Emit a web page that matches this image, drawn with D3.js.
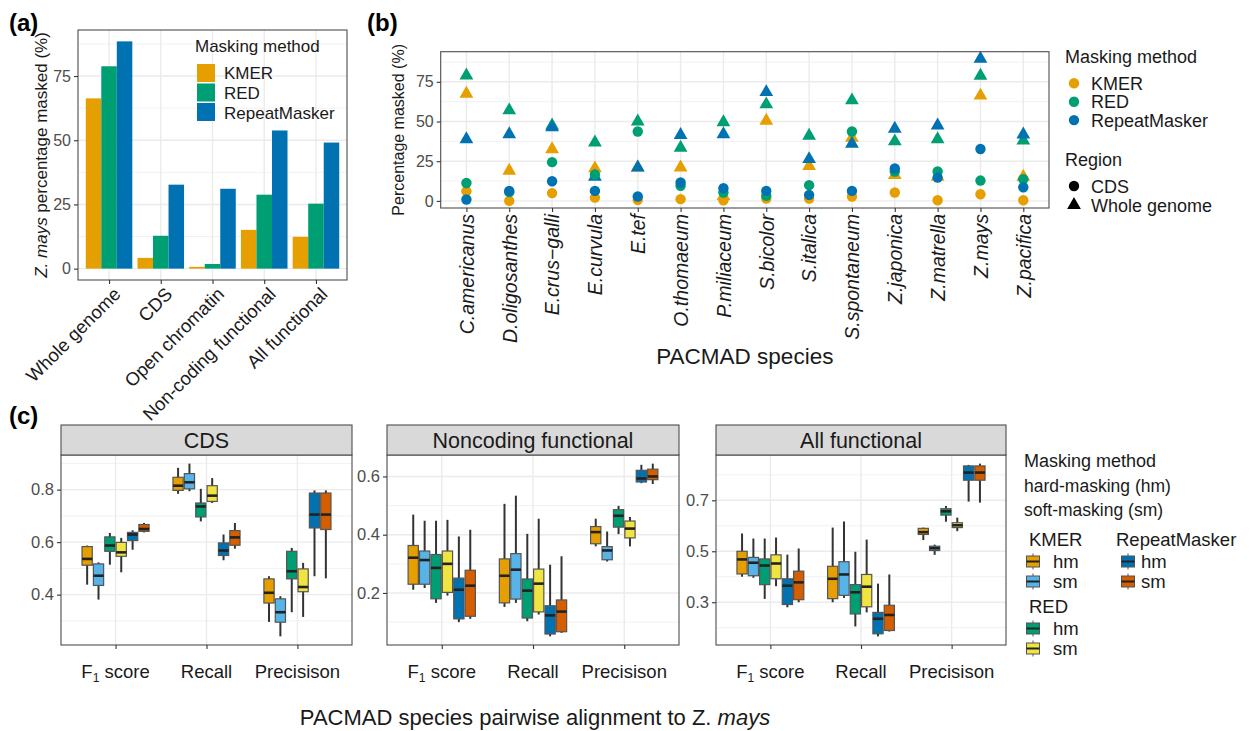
<!DOCTYPE html>
<html>
<head>
<meta charset="utf-8">
<script src="https://cdn.jsdelivr.net/npm/d3@7"></script>
<style>
  body { margin: 0; background: #fff; }
  svg text { font-family: "Liberation Sans", Arial, sans-serif; }
</style>
</head>
<body>
<svg id="fig" width="1250" height="731"></svg>
<script>
// ---- data: panel (a) ----
var regionsA = ["Whole genome", "CDS", "Open chromatin", "Non-coding functional", "All functional"];
var methods = ["KMER", "RED", "RepeatMasker"];
var kmerA = [66.3, 4.2, 0.7, 15.1, 12.4];
var redA = [78.8, 12.8, 1.8, 28.8, 25.3];
var rmA = [88.5, 32.7, 31.1, 53.8, 49.1];
var ticksA = [0, 25, 50, 75];

// ---- data: panel (b) ----
var species = ["C.americanus", "D.oligosanthes", "E.crus\u2212galli", "E.curvula", "E.tef", "O.thomaeum",
  "P.miliaceum", "S.bicolor", "S.italica", "S.spontaneum", "Z.japonica", "Z.matrella", "Z.mays", "Z.pacifica"];
var kmerCds = [6.1, 0.0, 4.9, 2.1, 0.6, 1.1, 0.4, 1.5, 1.5, 2.8, 5.3, 0.4, 4.2, 0.4];
var redCds = [11.3, 5.5, 24.4, 16.6, 43.7, 9.5, 5.3, 3.2, 9.9, 43.7, 18.5, 18.5, 12.8, 13.7];
var rmCds = [0.9, 6.3, 12.4, 6.3, 2.8, 11.6, 8.0, 6.3, 3.8, 6.3, 20.4, 14.7, 32.7, 8.6];
var kmerWg = [67.5, 19.0, 32.5, 20.5, 21.0, 21.0, 3.0, 50.5, 22.0, 39.7, 16.3, 15.2, 66.3, 15.2];
var redWg = [79.0, 57.0, 47.5, 36.8, 50.0, 33.5, 49.5, 60.8, 41.0, 63.3, 37.5, 38.8, 78.8, 38.0];
var rmWg = [38.8, 42.0, 46.3, 15.2, 21.0, 41.5, 42.0, 68.5, 26.3, 36.0, 45.5, 47.5, 89.5, 41.8];
var ticksB = [0, 25, 50, 75];

// ---- data: panel (c) ----
var metrics = ["F1 score", "Recall", "Precisison"];
var boxKeys = ["KMER hm", "KMER sm", "RED hm", "RED sm", "RepeatMasker hm", "RepeatMasker sm"];
// each row: [lower whisker, q1, median, q3, upper whisker]
var cdsF1 = [[0.438, 0.512, 0.536, 0.583, 0.587], [0.381, 0.435, 0.472, 0.517, 0.523], [0.514, 0.565, 0.587, 0.620, 0.635],
  [0.485, 0.546, 0.561, 0.599, 0.616], [0.571, 0.606, 0.629, 0.637, 0.645], [0.637, 0.641, 0.650, 0.667, 0.673]];
var cdsRecall = [[0.784, 0.797, 0.815, 0.847, 0.883], [0.794, 0.803, 0.828, 0.861, 0.899], [0.679, 0.696, 0.736, 0.749, 0.803],
  [0.749, 0.755, 0.777, 0.815, 0.844], [0.531, 0.549, 0.568, 0.597, 0.629], [0.575, 0.588, 0.618, 0.644, 0.673]];
var cdsPrecision = [[0.296, 0.368, 0.407, 0.460, 0.470], [0.241, 0.295, 0.333, 0.384, 0.394], [0.333, 0.460, 0.489, 0.565, 0.578],
  [0.315, 0.411, 0.429, 0.498, 0.521], [0.470, 0.654, 0.705, 0.787, 0.797], [0.462, 0.648, 0.705, 0.787, 0.797]];
var ncF1 = [[0.211, 0.230, 0.321, 0.363, 0.469], [0.217, 0.230, 0.313, 0.344, 0.448], [0.166, 0.180, 0.286, 0.332, 0.448],
  [0.191, 0.202, 0.300, 0.344, 0.451], [0.100, 0.111, 0.211, 0.251, 0.394], [0.111, 0.120, 0.225, 0.278, 0.417]];
var ncRecall = [[0.152, 0.166, 0.259, 0.317, 0.506], [0.166, 0.179, 0.280, 0.335, 0.534], [0.103, 0.114, 0.208, 0.248, 0.403],
  [0.126, 0.135, 0.232, 0.282, 0.455], [0.051, 0.059, 0.123, 0.156, 0.297], [0.063, 0.067, 0.136, 0.176, 0.326]];
var ncPrecision = [[0.360, 0.369, 0.409, 0.428, 0.455], [0.308, 0.314, 0.346, 0.359, 0.411], [0.402, 0.426, 0.465, 0.486, 0.499],
  [0.360, 0.389, 0.421, 0.447, 0.461], [0.577, 0.581, 0.593, 0.621, 0.640], [0.574, 0.589, 0.600, 0.625, 0.644]];
var allF1 = [[0.400, 0.411, 0.468, 0.500, 0.570], [0.396, 0.404, 0.455, 0.476, 0.550], [0.313, 0.369, 0.444, 0.470, 0.550],
  [0.363, 0.392, 0.452, 0.486, 0.554], [0.280, 0.291, 0.365, 0.392, 0.487], [0.300, 0.310, 0.378, 0.422, 0.511]];
var allRecall = [[0.300, 0.314, 0.392, 0.441, 0.593], [0.317, 0.327, 0.409, 0.459, 0.617], [0.205, 0.254, 0.339, 0.369, 0.498],
  [0.260, 0.282, 0.361, 0.409, 0.546], [0.166, 0.176, 0.235, 0.260, 0.373], [0.185, 0.189, 0.250, 0.288, 0.409]];
var allPrecision = [[0.544, 0.566, 0.575, 0.590, 0.593], [0.486, 0.503, 0.512, 0.520, 0.526], [0.616, 0.642, 0.657, 0.667, 0.678],
  [0.579, 0.593, 0.602, 0.612, 0.632], [0.695, 0.779, 0.809, 0.835, 0.839], [0.691, 0.779, 0.809, 0.835, 0.844]];
var facets = ["CDS", "Noncoding functional", "All functional"];
var ticksCds = [0.4, 0.6, 0.8], ticksNc = [0.2, 0.4, 0.6], ticksAll = [0.3, 0.5, 0.7];

// ---- styles ----
var GRID = "#EBEBEB", BORDER = "#4D4D4D", TICKTXT = "#4D4D4D", INK = "#1A1A1A";
var methodColor = d3.scaleOrdinal().domain(methods).range(["#E69F00", "#009E73", "#0072B2"]);
var boxColor = d3.scaleOrdinal().domain(boxKeys)
  .range(["#E69F00", "#56B4E9", "#009E73", "#F0E442", "#0072B2", "#D55E00"]);

var svg = d3.select("#fig");

function expanded(lo, hi) {
  var pad = (hi - lo) * 0.05;
  return [lo - pad, hi + pad];
}

function styleAxis(g, size) {
  g.attr("font-family", null).attr("font-size", null);
  g.select(".domain").remove();
  g.selectAll(".tick line").attr("stroke", "#333").attr("stroke-width", 1.1);
  g.selectAll(".tick text").attr("fill", TICKTXT).style("font-size", size + "px");
}

function grid(g, x0, x1, y0, y1, y, majors, minors, xs) {
  g.selectAll(null).data(minors).enter().append("line")
    .attr("x1", x0).attr("x2", x1).attr("y1", function (d) { return y(d); }).attr("y2", function (d) { return y(d); })
    .attr("stroke", GRID).attr("stroke-width", 0.7);
  g.selectAll(null).data(majors).enter().append("line")
    .attr("x1", x0).attr("x2", x1).attr("y1", function (d) { return y(d); }).attr("y2", function (d) { return y(d); })
    .attr("stroke", GRID).attr("stroke-width", 1.4);
  g.selectAll(null).data(xs).enter().append("line")
    .attr("y1", y0).attr("y2", y1).attr("x1", function (d) { return d; }).attr("x2", function (d) { return d; })
    .attr("stroke", GRID).attr("stroke-width", 1.4);
}

function border(g, x0, x1, y0, y1) {
  g.append("rect").attr("x", x0).attr("y", y0).attr("width", x1 - x0).attr("height", y1 - y0)
    .attr("fill", "none").attr("stroke", BORDER).attr("stroke-width", 1.1);
}

function midpoints(t) {
  var m = [];
  for (var i = 0; i <= t.length; i++) {
    var step = t[1] - t[0];
    m.push(+(t[0] - step / 2 + i * step).toFixed(4));
  }
  return m;
}

// ================= panel (a) =================
(function () {
  var L = 78, R = 347, T = 30, B = 280;
  var g = svg.append("g");
  var allVals = kmerA.concat(redA, rmA);
  var y = d3.scaleLinear().domain(expanded(0, d3.max(allVals))).range([B, T]);
  var x = d3.scalePoint().domain(regionsA).range([L, R]).padding(0.6);
  var dodge = d3.scaleBand().domain(methods).range([-0.45 * x.step(), 0.45 * x.step()]);

  var minors = [12.5, 37.5, 62.5, 87.5];
  grid(g, L, R, T, B, y, ticksA, minors, regionsA.map(function (d) { return x(d); }));

  var rows = [];
  regionsA.forEach(function (r, i) {
    rows.push({ region: r, method: "KMER", v: kmerA[i] });
    rows.push({ region: r, method: "RED", v: redA[i] });
    rows.push({ region: r, method: "RepeatMasker", v: rmA[i] });
  });
  g.selectAll("rect.bar").data(rows).enter().append("rect").attr("class", "bar")
    .attr("x", function (d) { return x(d.region) + dodge(d.method); })
    .attr("width", dodge.bandwidth())
    .attr("y", function (d) { return y(d.v); })
    .attr("height", function (d) { return y(0) - y(d.v); })
    .attr("fill", function (d) { return methodColor(d.method); });

  border(g, L, R, T, B);

  var ya = g.append("g").attr("transform", "translate(" + L + ",0)")
    .call(d3.axisLeft(y).tickValues(ticksA).tickSize(4).tickPadding(3));
  styleAxis(ya, 16);
  var xa = g.append("g").attr("transform", "translate(0," + B + ")")
    .call(d3.axisBottom(x).tickSize(4));
  styleAxis(xa, 18.5);
  xa.selectAll(".tick text")
    .attr("fill", INK)
    .attr("text-anchor", "end")
    .attr("transform", "translate(3,6) rotate(-45)")
    .attr("x", 0).attr("y", 0).attr("dy", "0.71em");

  var yt = g.append("text").attr("transform", "translate(47," + ((T + B) / 2) + ") rotate(-90)")
    .attr("text-anchor", "middle").attr("fill", INK).style("font-size", "17px");
  yt.append("tspan").text("Z. ").style("font-style", "italic");
  yt.append("tspan").text("mays").style("font-style", "italic");
  yt.append("tspan").text(" percentage masked (%)");

  // legend
  var lg = g.append("g");
  lg.append("text").attr("x", 195).attr("y", 52).attr("fill", INK).style("font-size", "17px").text("Masking method");
  methods.forEach(function (m, i) {
    lg.append("rect").attr("x", 197).attr("y", 64 + i * 19.5).attr("width", 18).attr("height", 18).attr("fill", methodColor(m));
    lg.append("text").attr("x", 224).attr("y", 79 + i * 19.8).attr("fill", INK).style("font-size", "17px").text(m);
  });

  svg.append("text").attr("x", 9).attr("y", 31).attr("fill", "#000").style("font-size", "24px").style("font-weight", "bold").text("(a)");
})();

// ================= panel (b) =================
(function () {
  var L = 440.7, R = 1049, T = 51.7, B = 208;
  var g = svg.append("g");
  var allVals = kmerCds.concat(redCds, rmCds, kmerWg, redWg, rmWg);
  var y = d3.scaleLinear().domain(expanded(0, d3.max(allVals))).range([B, T]);
  var x = d3.scalePoint().domain(species).range([L, R]).padding(0.6);

  grid(g, L, R, T, B, y, ticksB, [12.5, 37.5, 62.5, 87.5], species.map(function (d) { return x(d); }));

  var wg = [], cds = [];
  species.forEach(function (s, i) {
    wg.push({ sp: s, method: "KMER", v: kmerWg[i] });
    wg.push({ sp: s, method: "RED", v: redWg[i] });
    wg.push({ sp: s, method: "RepeatMasker", v: rmWg[i] });
    cds.push({ sp: s, method: "KMER", v: kmerCds[i] });
    cds.push({ sp: s, method: "RED", v: redCds[i] });
    cds.push({ sp: s, method: "RepeatMasker", v: rmCds[i] });
  });
  var tri = d3.symbol().type(d3.symbolTriangle).size(82);
  g.selectAll("path.wg").data(wg).enter().append("path").attr("class", "wg")
    .attr("d", tri)
    .attr("transform", function (d) { return "translate(" + x(d.sp) + "," + y(d.v) + ")"; })
    .attr("fill", function (d) { return methodColor(d.method); });
  g.selectAll("circle.cds").data(cds).enter().append("circle").attr("class", "cds")
    .attr("cx", function (d) { return x(d.sp); })
    .attr("cy", function (d) { return y(d.v); })
    .attr("r", 5.2)
    .attr("fill", function (d) { return methodColor(d.method); });

  border(g, L, R, T, B);

  var ya = g.append("g").attr("transform", "translate(" + L + ",0)")
    .call(d3.axisLeft(y).tickValues(ticksB).tickSize(4).tickPadding(3));
  styleAxis(ya, 16);
  var xa = g.append("g").attr("transform", "translate(0," + B + ")")
    .call(d3.axisBottom(x).tickSize(4));
  styleAxis(xa, 19.5);
  xa.selectAll(".tick text")
    .attr("fill", INK)
    .style("font-style", "italic")
    .attr("text-anchor", "end")
    .attr("transform", "rotate(-90)")
    .attr("x", -6).attr("y", 0).attr("dy", "0.35em");

  g.append("text").attr("transform", "translate(404," + ((T + B) / 2) + ") rotate(-90)")
    .attr("text-anchor", "middle").attr("fill", INK).style("font-size", "16px").text("Percentage masked (%)");
  g.append("text").attr("x", (L + R) / 2).attr("y", 364).attr("text-anchor", "middle")
    .attr("fill", INK).style("font-size", "22.5px").text("PACMAD species");

  // legends
  var lg = g.append("g");
  lg.append("text").attr("x", 1065).attr("y", 63).attr("fill", INK).style("font-size", "18px").text("Masking method");
  methods.forEach(function (m, i) {
    lg.append("circle").attr("cx", 1074).attr("cy", 83.3 + i * 18.4).attr("r", 5.2).attr("fill", methodColor(m));
    lg.append("text").attr("x", 1091).attr("y", 89.8 + i * 18.4).attr("fill", INK).style("font-size", "18px").text(m);
  });
  lg.append("text").attr("x", 1065).attr("y", 166).attr("fill", INK).style("font-size", "18px").text("Region");
  lg.append("circle").attr("cx", 1074).attr("cy", 186).attr("r", 5.2).attr("fill", "#000");
  lg.append("path").attr("d", tri).attr("transform", "translate(1074,205)").attr("fill", "#000");
  lg.append("text").attr("x", 1091).attr("y", 192.5).attr("fill", INK).style("font-size", "18px").text("CDS");
  lg.append("text").attr("x", 1091).attr("y", 211.5).attr("fill", INK).style("font-size", "18px").text("Whole genome");

  svg.append("text").attr("x", 367).attr("y", 31).attr("fill", "#000").style("font-size", "24px").style("font-weight", "bold").text("(b)");
})();

// ================= panel (c) =================
(function () {
  var T = 455, B = 645, ST = 425;
  var spans = [[61, 352], [387, 679], [716, 1006]];
  var stats = [
    [cdsF1, cdsRecall, cdsPrecision],
    [ncF1, ncRecall, ncPrecision],
    [allF1, allRecall, allPrecision]
  ];
  var ticks = [ticksCds, ticksNc, ticksAll];

  facets.forEach(function (f, fi) {
    var L = spans[fi][0], R = spans[fi][1];
    var g = svg.append("g");
    var flat = [];
    stats[fi].forEach(function (m) { m.forEach(function (b) { flat.push(b[0], b[4]); }); });
    var y = d3.scaleLinear().domain(expanded(d3.min(flat), d3.max(flat))).range([B, T]);
    var x = d3.scalePoint().domain(metrics).range([L, R]).padding(0.6);
    var dodge = d3.scaleBand().domain(boxKeys).range([-0.375 * x.step(), 0.375 * x.step()]);
    var bw = dodge.bandwidth() * 0.9;

    var minors = midpoints(ticks[fi]).filter(function (v) { return v > y.domain()[0] && v < y.domain()[1]; });
    grid(g, L, R, T, B, y, ticks[fi], minors, metrics.map(function (d) { return x(d); }));

    metrics.forEach(function (m, mi) {
      stats[fi][mi].forEach(function (s, bi) {
        var key = boxKeys[bi];
        var cx = x(m) + dodge(key) + dodge.bandwidth() / 2;
        g.append("line").attr("x1", cx).attr("x2", cx).attr("y1", y(s[0])).attr("y2", y(s[4]))
          .attr("stroke", "#333").attr("stroke-width", 2);
        g.append("rect").attr("x", cx - bw / 2).attr("width", bw)
          .attr("y", y(s[3])).attr("height", Math.max(1, y(s[1]) - y(s[3])))
          .attr("fill", boxColor(key)).attr("stroke", "#555").attr("stroke-width", 1.2);
        g.append("line").attr("x1", cx - bw / 2).attr("x2", cx + bw / 2).attr("y1", y(s[2])).attr("y2", y(s[2]))
          .attr("stroke", "#222").attr("stroke-width", 2.6);
      });
    });

    border(g, L, R, T, B);
    g.append("rect").attr("x", L).attr("y", ST).attr("width", R - L).attr("height", T - ST)
      .attr("fill", "#D9D9D9").attr("stroke", BORDER).attr("stroke-width", 1.1);
    g.append("text").attr("x", (L + R) / 2).attr("y", 448).attr("text-anchor", "middle")
      .attr("fill", INK).style("font-size", "21.5px").text(f);

    var ya = g.append("g").attr("transform", "translate(" + L + ",0)")
      .call(d3.axisLeft(y).tickValues(ticks[fi]).tickSize(4).tickPadding(3).tickFormat(d3.format(".1f")));
    styleAxis(ya, 16.5);
    var xa = g.append("g").attr("transform", "translate(0," + B + ")")
      .call(d3.axisBottom(x).tickSize(4).tickFormat(""));
    styleAxis(xa, 18.5);
    metrics.forEach(function (m) {
      var t = g.append("text").attr("x", x(m)).attr("y", 678).attr("text-anchor", "middle")
        .attr("fill", INK).style("font-size", "18.5px");
      if (m === "F1 score") {
        t.append("tspan").text("F");
        t.append("tspan").text("1").style("font-size", "12px").attr("dy", 4);
        t.append("tspan").text(" score").attr("dy", -4);
      } else {
        t.text(m);
      }
    });
  });

  var xt = svg.append("text").attr("x", 535).attr("y", 725).attr("text-anchor", "middle")
    .attr("fill", INK).style("font-size", "22px");
  xt.append("tspan").text("PACMAD species pairwise alignment to Z. ");
  xt.append("tspan").text("mays").style("font-style", "italic");

  // legend
  var lg = svg.append("g");
  lg.append("text").attr("x", 1024).attr("y", 467).attr("fill", INK).style("font-size", "18px").text("Masking method");
  lg.append("text").attr("x", 1024).attr("y", 492).attr("fill", INK).style("font-size", "17.5px").text("hard-masking (hm)");
  lg.append("text").attr("x", 1024).attr("y", 516).attr("fill", INK).style("font-size", "17.5px").text("soft-masking (sm)");

  function key(cx, cy, col) {
    lg.append("line").attr("x1", cx).attr("x2", cx).attr("y1", cy - 8).attr("y2", cy + 8).attr("stroke", "#555").attr("stroke-width", 1);
    lg.append("rect").attr("x", cx - 6.5).attr("y", cy - 5.5).attr("width", 13).attr("height", 11)
      .attr("fill", col).attr("stroke", "#555").attr("stroke-width", 1);
    lg.append("line").attr("x1", cx - 6.5).attr("x2", cx + 6.5).attr("y1", cy).attr("y2", cy).attr("stroke", "#222").attr("stroke-width", 2);
  }
  var groups = [
    { name: "KMER", x: 1029, tx: 1053, y: 546, keys: ["KMER hm", "KMER sm"] },
    { name: "RepeatMasker", x: 1116, tx: 1141, y: 546, keys: ["RepeatMasker hm", "RepeatMasker sm"] },
    { name: "RED", x: 1029, tx: 1053, y: 613, keys: ["RED hm", "RED sm"] }
  ];
  groups.forEach(function (gr) {
    lg.append("text").attr("x", gr.x).attr("y", gr.y).attr("fill", INK).style("font-size", "18.5px").text(gr.name);
    gr.keys.forEach(function (k, i) {
      var cy = gr.y + 15.5 + i * 20;
      var kx = gr.name === "RepeatMasker" ? 1128 : 1033;
      key(kx, cy, boxColor(k));
      lg.append("text").attr("x", gr.tx).attr("y", cy + 6.5).attr("fill", INK).style("font-size", "18.5px").text(k.split(" ")[1]);
    });
  });

  svg.append("text").attr("x", 9).attr("y", 424).attr("fill", "#000").style("font-size", "24px").style("font-weight", "bold").text("(c)");
})();
</script>
</body>
</html>
